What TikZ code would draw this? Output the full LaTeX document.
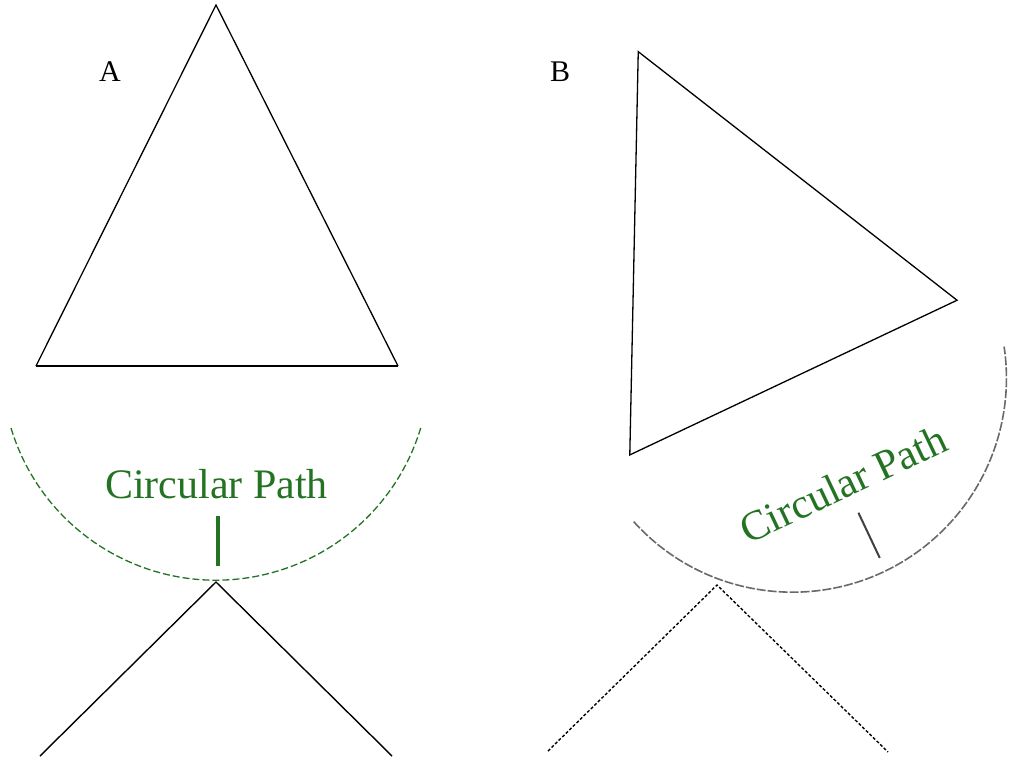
\documentclass[tikz,border=0pt]{standalone}
\usepackage{fontspec}
\setmainfont{Liberation Serif}
\definecolor{pathgreen}{RGB}{35,115,35}
\definecolor{arcgray}{RGB}{105,105,105}
\begin{document}
\begin{tikzpicture}[x=1pt,y=-1pt,
  side/.style={line width=1.3pt},
  basel/.style={line width=2pt},
  arcA/.style={draw=pathgreen, line width=1.3pt, dash pattern=on 7pt off 3pt},
  arcB/.style={draw=arcgray, line width=1.6pt, dash pattern=on 9pt off 2pt},
  tickA/.style={draw=pathgreen, line width=3.5pt},
  tickB/.style={draw=black!75, line width=2pt},
  legA/.style={line width=1.4pt},
  legB/.style={line width=1.4pt, dash pattern=on 3pt off 2pt},
  lbl/.style={font=\fontsize{30}{30}\selectfont, inner sep=0pt},
  ptext/.style={text=pathgreen, font=\fontsize{42}{42}\selectfont, inner sep=0pt, anchor=base}]
\useasboundingbox (0,0) rectangle (1016,764);
\fill[white] (0,0) rectangle (1016,764);

% ---------- Panel A ----------
\node[lbl] (labA) at (110,72) {A};
\begin{scope}[shift={(216,366)}]
  \coordinate (Aapex) at (0,-361);
  \coordinate (Aleft) at (-180,0);
  \coordinate (Aright) at (182,0);
  \coordinate (Aarc) at (-205,62);
  \coordinate (Atick1) at (2,150);
  \coordinate (Atick2) at (2,200);
  \draw[side] (Aleft) -- (Aapex) -- (Aright);
  \draw[basel] (Aleft) -- (Aright);
  \draw[arcA] (Aarc) arc (163.2:16.8:214);
  \draw[tickA] (Atick1) -- (Atick2);
  \node[ptext] (txtA) at (0.5,132) {Circular Path};
\end{scope}
\coordinate (Ajoin) at (216,582);
\coordinate (Aleg1) at (40,756);
\coordinate (Aleg2) at (392,756);
\draw[legA] (Aleg1) -- (Ajoin) -- (Aleg2);

% ---------- Panel B ----------
\node[lbl] (labB) at (560,72) {B};
\begin{scope}[shift={(792.5,378)}, rotate=25.3]
  \coordinate (Bapex) at (0,-361);
  \coordinate (Bleft) at (-180,0);
  \coordinate (Bright) at (182,0);
  \coordinate (Barc) at (-205,62);
  \coordinate (Btick1) at (2,150);
  \coordinate (Btick2) at (2,200);
  \draw[side] (Bleft) -- (Bapex) -- (Bright) -- cycle;
  \draw[arcB] (Barc) arc (163.2:16.8:214);
  \draw[tickB] (Btick1) -- (Btick2);
  \node[ptext, transform shape] (txtB) at (0.5,132) {Circular Path};
\end{scope}
\coordinate (Bjoin) at (717,585);
\coordinate (Bleg1) at (548,751);
\coordinate (Bleg2) at (888,752);
\draw[legB] (Bleg1) -- (Bjoin) -- (Bleg2);
\end{tikzpicture}
\end{document}
